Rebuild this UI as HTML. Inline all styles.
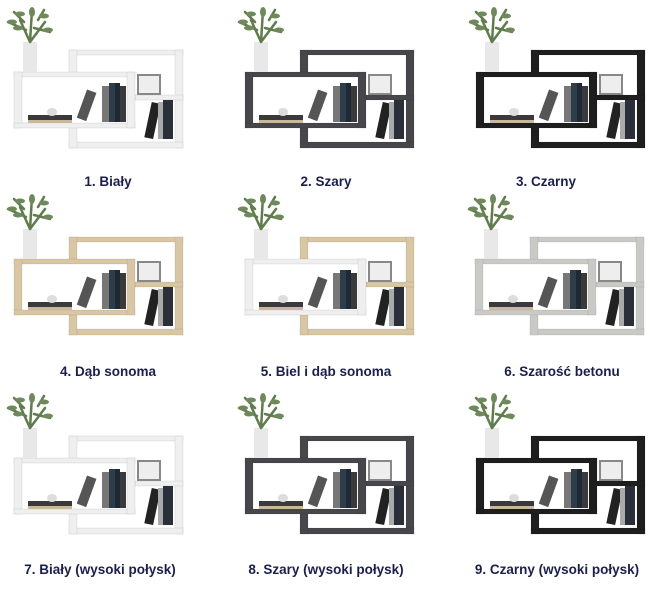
<!DOCTYPE html>
<html><head><meta charset="utf-8"><style>
body{margin:0;background:#fff;width:650px;height:589px;overflow:hidden;position:relative;font-family:"Liberation Sans",sans-serif}
svg.c{position:absolute;left:0;top:0;width:216px;height:160px}
.l{position:absolute;font-weight:bold;font-size:13.5px;color:#1b1f4f;white-space:nowrap;transform:translateX(-50%)}
</style></head><body>
<svg width="0" height="0" style="position:absolute">
<defs>
<g id="s">
 <g fill="var(--b)" stroke="rgba(0,0,0,0.12)" stroke-width="0.6">
  <rect x="69" y="50" width="114" height="5"/>
  <rect x="69" y="50" width="8" height="24"/>
  <rect x="175" y="50" width="8" height="98"/>
  <rect x="135" y="95" width="48" height="5"/>
  <rect x="69" y="142" width="114" height="6"/>
  <rect x="69" y="124" width="8" height="24"/>
 </g>
 <g fill="var(--a)" stroke="rgba(0,0,0,0.12)" stroke-width="0.6">
  <rect x="14" y="72" width="121" height="5"/>
  <rect x="14" y="72" width="8" height="56"/>
  <rect x="14" y="123" width="121" height="5"/>
  <rect x="127" y="72" width="8" height="56"/>
 </g>
 <rect x="28" y="115" width="44" height="7" fill="#3a3a3a"/>
 <rect x="28" y="120" width="44" height="3" fill="#c9b89a"/>
 <ellipse cx="52" cy="112" rx="5" ry="4" fill="#ddd"/>
 <rect x="82" y="90" width="10" height="30" fill="#555" transform="rotate(20 86 104)"/>
 <rect x="102" y="86" width="7" height="36" fill="#777"/>
 <rect x="109" y="83" width="6" height="39" fill="#2d3d4a"/>
 <rect x="115" y="83" width="5" height="39" fill="#1e2a33"/>
 <rect x="120" y="86" width="6" height="36" fill="#3a3a3a"/>
 <rect x="137" y="74" width="24" height="21" fill="#888"/>
 <rect x="139" y="76" width="20" height="17" fill="#eee"/>
 <rect x="148" y="102" width="9" height="36" fill="#222" transform="rotate(12 150 120)"/>
 <rect x="158" y="102" width="5" height="37" fill="#aaa"/>
 <rect x="163" y="100" width="10" height="39" fill="#2a2f3a"/>
 <rect x="23" y="42" width="14" height="30" fill="#e8e8e8"/>
 <g stroke="#5f7d4a" stroke-width="2.5" stroke-linecap="round" fill="none">
  <path d="M30 42 L20 20 M30 42 L32 10 M30 42 L45 22 M26 30 L8 22 M34 28 L50 32 M24 22 L14 12 M38 20 L44 10"/>
 </g>
 <g fill="#6f8a5a">
  <ellipse cx="12" cy="22" rx="5" ry="2.5"/><ellipse cx="20" cy="14" rx="5" ry="2.5"/>
  <ellipse cx="32" cy="12" rx="3" ry="5"/><ellipse cx="44" cy="16" rx="5" ry="2.5"/>
  <ellipse cx="48" cy="30" rx="5" ry="2.5"/><ellipse cx="18" cy="28" rx="5" ry="2.5"/>
 </g>
</g>
</defs></svg>

<svg class="c" style="left:0;top:0;--a:#efefef;--b:#efefef"><use href="#s"/></svg>
<svg class="c" style="left:231px;top:0;--a:#47474b;--b:#47474b"><use href="#s"/></svg>
<svg class="c" style="left:462px;top:0;--a:#1e1e1e;--b:#1e1e1e"><use href="#s"/></svg>
<svg class="c" style="left:0;top:187px;--a:#d9c6a2;--b:#d9c6a2"><use href="#s"/></svg>
<svg class="c" style="left:231px;top:187px;--a:#efefef;--b:#d9c6a2"><use href="#s"/></svg>
<svg class="c" style="left:461px;top:187px;--a:#c9c9c6;--b:#c9c9c6"><use href="#s"/></svg>
<svg class="c" style="left:0;top:386px;--a:#efefef;--b:#efefef"><use href="#s"/></svg>
<svg class="c" style="left:231px;top:386px;--a:#47474b;--b:#47474b"><use href="#s"/></svg>
<svg class="c" style="left:462px;top:386px;--a:#1e1e1e;--b:#1e1e1e"><use href="#s"/></svg>

<div class="l" style="left:108px;top:174px">1. Biały</div>
<div class="l" style="left:326px;top:174px">2. Szary</div>
<div class="l" style="left:546px;top:174px">3. Czarny</div>
<div class="l" style="left:108px;top:364px">4. Dąb sonoma</div>
<div class="l" style="left:326px;top:364px">5. Biel i dąb sonoma</div>
<div class="l" style="left:562px;top:364px">6. Szarość betonu</div>
<div class="l" style="left:100px;top:562px">7. Biały (wysoki połysk)</div>
<div class="l" style="left:326px;top:562px">8. Szary (wysoki połysk)</div>
<div class="l" style="left:557px;top:562px">9. Czarny (wysoki połysk)</div>
</body></html>
